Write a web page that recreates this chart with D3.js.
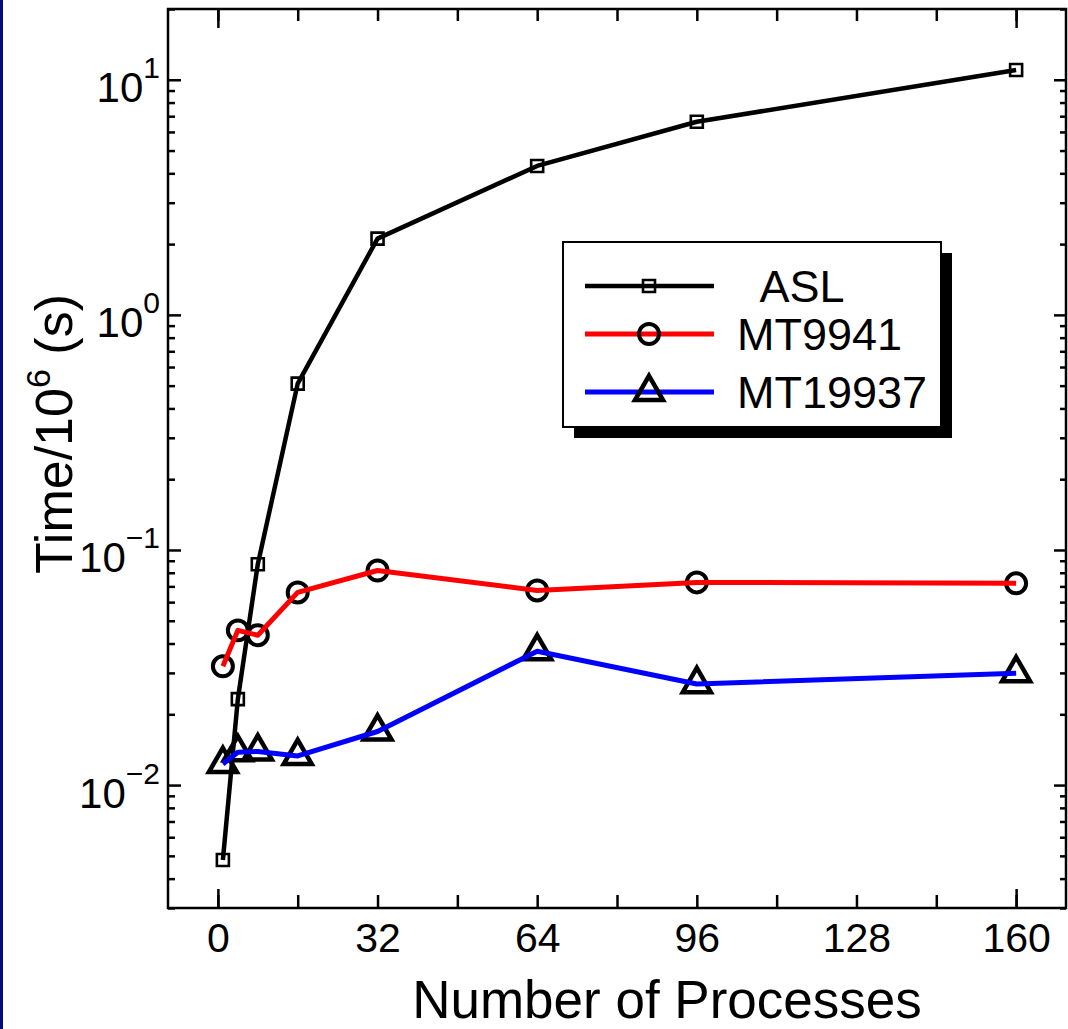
<!DOCTYPE html>
<html>
<head>
<meta charset="utf-8">
<script src="https://cdn.jsdelivr.net/npm/d3@7"></script>
<style>
  html, body { margin: 0; padding: 0; background: #fff; }
  svg { display: block; font-family: "Liberation Sans", Arial, sans-serif; }
</style>
</head>
<body>
<svg id="chart" width="1068" height="1029"></svg>
<script>
// ---- data ----
const processes = [1, 4, 8, 16, 32, 64, 96, 160];
const aslTimes = [0.0048, 0.0232, 0.087, 0.51, 2.11, 4.3, 6.63, 11.0];
const mt9941Times = [0.032, 0.0455, 0.0434, 0.066, 0.0818, 0.0673, 0.0728, 0.0721];
const mt19937Times = [0.0123, 0.0138, 0.0139, 0.0133, 0.0169, 0.0371, 0.0269, 0.0299];
const seriesNames = ["  ASL", "MT9941", "MT19937"];
const xTickLabels = [0, 32, 64, 96, 128, 160];
const xMinorTicks = [16, 48, 80, 112, 144];
const yDecades = [0.01, 0.1, 1, 10];
const yExponents = ["−2", "−1", "0", "1"];

// ---- setup ----
const svg = d3.select("#chart");
const W = 1068, H = 1029;
const L = 168, R = 1066, T = 9, B = 908;

svg.append("rect").attr("width", W).attr("height", H).attr("fill", "#fff");
svg.append("rect").attr("x", 0).attr("y", 0).attr("width", 3).attr("height", H).attr("fill", "#0a0a78");

const x = d3.scaleLinear().domain([-10, 170]).range([L, R]);
const y = d3.scaleLog().domain([0.003, 20]).range([B, T]);

// minor y ticks
const yMinor = [];
[0.001, 0.01, 0.1, 1, 10].forEach(d => {
  for (let k = 2; k <= 9; k++) {
    const v = d * k;
    if (v >= 0.003 && v <= 20) yMinor.push(v);
  }
});

const axisG = svg.append("g");
function styleAxis(g) {
  g.select(".domain").remove();
  g.selectAll(".tick line").attr("stroke", "#000").attr("stroke-width", 2.5);
}
// bottom
axisG.append("g").attr("transform", `translate(0,${B})`)
  .call(d3.axisBottom(x).tickValues(xTickLabels).tickSize(-13).tickPadding(0).tickFormat(d3.format("d")))
  .call(styleAxis)
  .call(g => g.selectAll(".tick text").attr("y", 44).attr("dy", 0)
    .attr("font-size", 41).attr("fill", "#000").attr("font-family", "Liberation Sans, Arial, sans-serif"));
axisG.append("g").attr("transform", `translate(0,${B})`)
  .call(d3.axisBottom(x).tickValues(xMinorTicks).tickSize(-13).tickFormat(""))
  .call(styleAxis);
axisG.append("g").attr("transform", `translate(0,${B})`)
  .call(d3.axisBottom(x).tickValues([0, 160]).tickSize(-19).tickFormat(""))
  .call(styleAxis);
// top
axisG.append("g").attr("transform", `translate(0,${T})`)
  .call(d3.axisTop(x).tickValues(xTickLabels.concat(xMinorTicks)).tickSize(-12).tickFormat(""))
  .call(styleAxis);
axisG.append("g").attr("transform", `translate(0,${T})`)
  .call(d3.axisTop(x).tickValues([0, 160]).tickSize(-19).tickFormat(""))
  .call(styleAxis);
// left
axisG.append("g").attr("transform", `translate(${L},0)`)
  .call(d3.axisLeft(y).tickValues(yMinor).tickSize(-7).tickFormat(""))
  .call(styleAxis);
axisG.append("g").attr("transform", `translate(${L},0)`)
  .call(d3.axisLeft(y).tickValues(yDecades).tickSize(-13).tickPadding(8).tickFormat(""))
  .call(styleAxis)
  .call(g => g.selectAll(".tick text").each(function(d, i) {
    const t = d3.select(this).attr("dy", 0).attr("y", 22).attr("fill", "#000")
      .attr("font-size", 42).attr("font-family", "Liberation Sans, Arial, sans-serif");
    t.text(null);
    t.append("tspan").text("10");
    t.append("tspan").attr("dy", -24).attr("font-size", 30).text(yExponents[i]);
  }));
// right
axisG.append("g").attr("transform", `translate(${R},0)`)
  .call(d3.axisRight(y).tickValues(yMinor).tickSize(-6).tickFormat(""))
  .call(styleAxis);
axisG.append("g").attr("transform", `translate(${R},0)`)
  .call(d3.axisRight(y).tickValues(yDecades).tickSize(-12).tickFormat(""))
  .call(styleAxis);

// frame
svg.append("rect").attr("x", L).attr("y", T).attr("width", R - L).attr("height", B - T)
  .attr("fill", "none").attr("stroke", "#000").attr("stroke-width", 2.5);

// ---- series ----
const series = [
  { name: seriesNames[0], values: aslTimes, color: "#000", width: 4.5, symbol: d3.symbolSquare, size: 144, sw: 2.6 },
  { name: seriesNames[1], values: mt9941Times, color: "#ff0000", width: 5, symbol: d3.symbolCircle, size: 314, sw: 4 },
  { name: seriesNames[2], values: mt19937Times, color: "#0000ff", width: 5, symbol: d3.symbolTriangle, size: 340, sw: 4.5 }
];

const line = d3.line().x(d => x(d[0])).y(d => y(d[1]));
const plot = svg.append("g");
series.forEach(s => {
  const pts = processes.map((p, i) => [p, s.values[i]]);
  plot.append("g").selectAll("path").data(pts).join("path")
    .attr("transform", d => `translate(${x(d[0])},${y(d[1])})`)
    .attr("d", d3.symbol().type(s.symbol).size(s.size))
    .attr("fill", "none").attr("stroke", "#000").attr("stroke-width", s.sw);
});
series.forEach(s => {
  const pts = processes.map((p, i) => [p, s.values[i]]);
  plot.append("path").datum(pts).attr("d", line)
    .attr("fill", "none").attr("stroke", s.color).attr("stroke-width", s.width)
    .attr("stroke-linejoin", "round");
});

// ---- legend ----
const lg = svg.append("g");
const lx = 563, ly = 242, lw = 378, lh = 185;
lg.append("rect").attr("x", lx + 11).attr("y", ly + 11).attr("width", lw).attr("height", lh).attr("fill", "#000");
lg.append("rect").attr("x", lx).attr("y", ly).attr("width", lw).attr("height", lh)
  .attr("fill", "#fff").attr("stroke", "#000").attr("stroke-width", 2);
const rowsY = [286, 334, 392];
series.forEach((s, i) => {
  const ry = rowsY[i];
  lg.append("line").attr("x1", 585).attr("x2", 714).attr("y1", ry).attr("y2", ry)
    .attr("stroke", s.color).attr("stroke-width", s.width);
  lg.append("path").attr("transform", `translate(649,${ry})`)
    .attr("d", d3.symbol().type(s.symbol).size(s.size))
    .attr("fill", "none").attr("stroke", "#000").attr("stroke-width", s.sw);
  lg.append("text").attr("x", 737).attr("y", ry + 16).attr("font-size", 45)
    .attr("fill", "#000").style("white-space", "pre").text(s.name);
});

// ---- axis titles ----
svg.append("text").attr("x", 667).attr("y", 1018).attr("text-anchor", "middle")
  .attr("font-size", 53).attr("fill", "#000").text("Number of Processes");
const yt = svg.append("text").attr("transform", "translate(72,434) rotate(-90)")
  .attr("text-anchor", "middle").attr("font-size", 52).attr("fill", "#000");
yt.append("tspan").text("Time/10");
yt.append("tspan").attr("dy", -22).attr("font-size", 34).text("6");
yt.append("tspan").attr("dy", 22).text(" (s)");
</script>
</body>
</html>
